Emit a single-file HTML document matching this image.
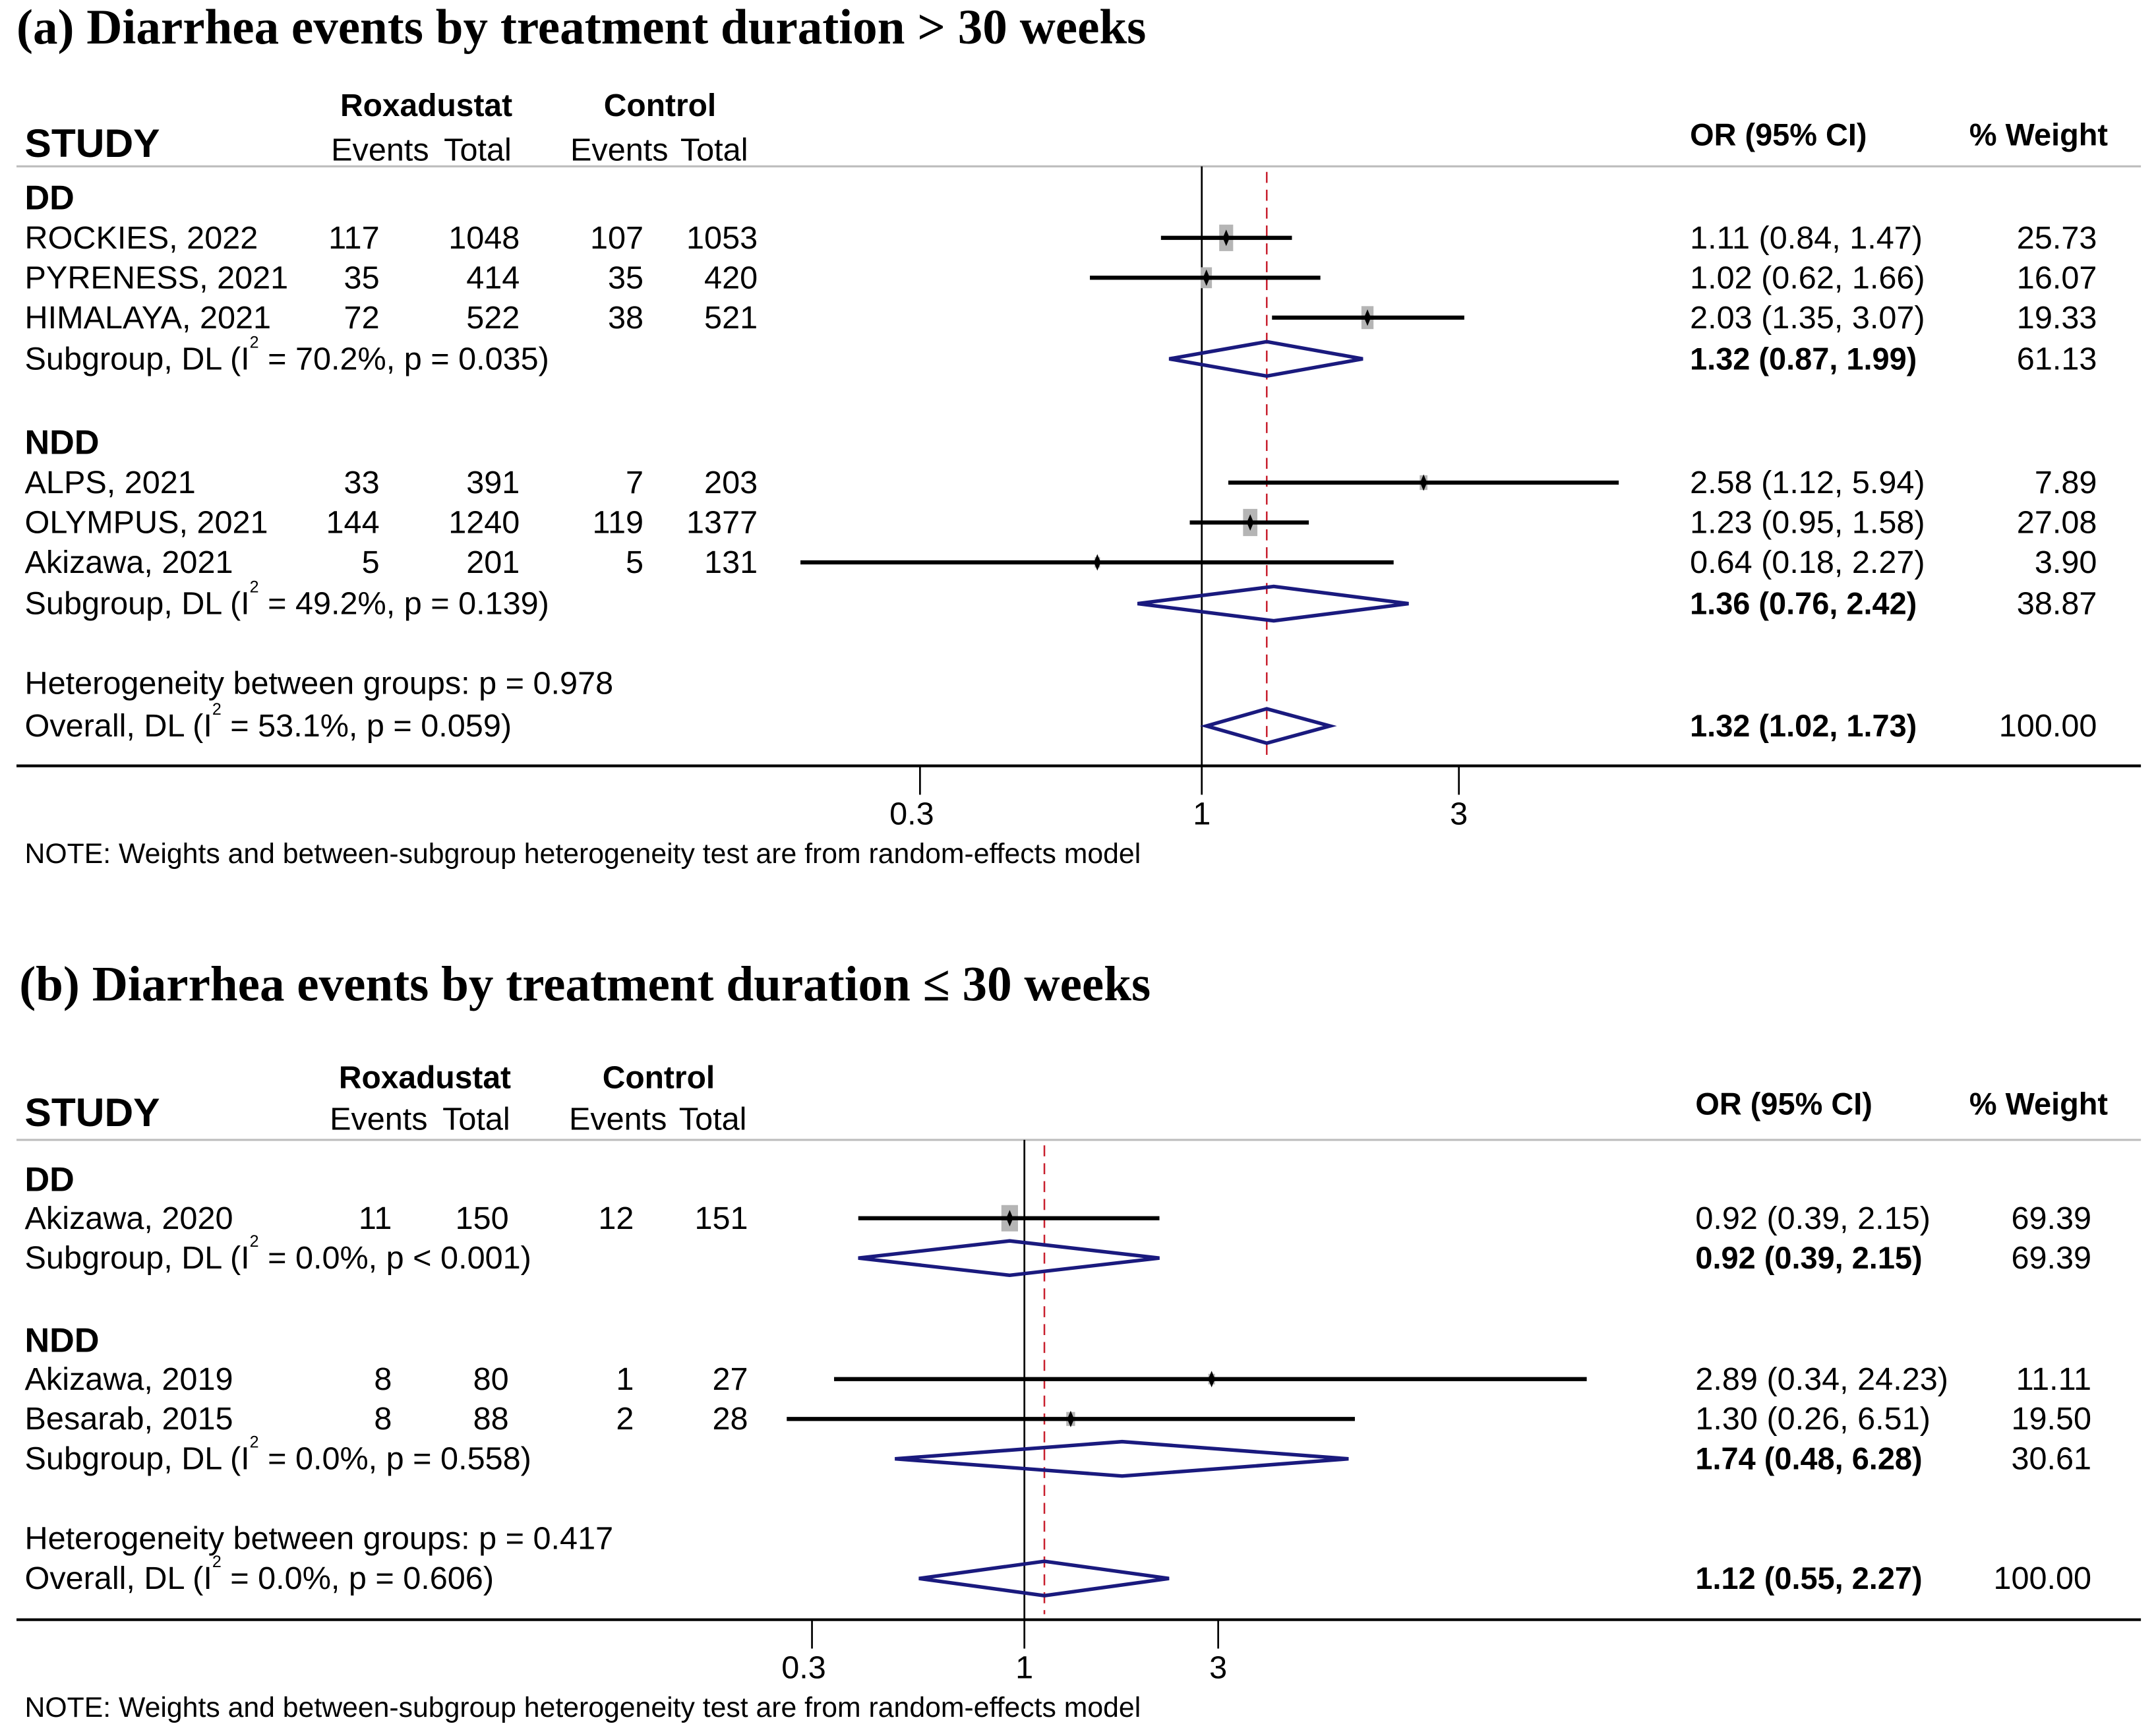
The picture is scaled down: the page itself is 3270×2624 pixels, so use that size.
<!DOCTYPE html>
<html><head><meta charset="utf-8">
<style>
html,body{margin:0;padding:0;background:#fff;}
svg{display:block;}
text{font-family:"Liberation Sans",Arial,sans-serif;fill:#000;}
.t{font-family:"Liberation Serif",serif;font-weight:bold;font-size:36px;}
.b{font-weight:bold;}
</style></head>
<body>
<svg id="chart" width="3270" height="2624" viewBox="0 0 3270 2624" xmlns="http://www.w3.org/2000/svg">
<g id="root" transform="scale(2.0855)"></g>
</svg>
<script>
// ---------- Panel A data ----------
const aNames = ["ROCKIES, 2022","PYRENESS, 2021","HIMALAYA, 2021","ALPS, 2021","OLYMPUS, 2021","Akizawa, 2021"];
const aGroup = ["DD","DD","DD","NDD","NDD","NDD"];
const aRoxE = [117,35,72,33,144,5];
const aRoxT = [1048,414,522,391,1240,201];
const aCtlE = [107,35,38,7,119,5];
const aCtlT = [1053,420,521,203,1377,131];
const aOR = [1.11,1.02,2.03,2.58,1.23,0.64];
const aLo = [0.84,0.62,1.35,1.12,0.95,0.18];
const aHi = [1.47,1.66,3.07,5.94,1.58,2.27];
const aW = ["25.73","16.07","19.33","7.89","27.08","3.90"];
const aSubOR = [1.32,1.36], aSubLo=[0.87,0.76], aSubHi=[1.99,2.42], aSubW=["61.13","38.87"];
const aSubI2 = ["70.2%","49.2%"], aSubP=["p = 0.035","p = 0.139"];
const aOverall = [1.32,1.02,1.73], aOverallTxt="53.1%, p = 0.059", aHet="0.978";
// ---------- Panel B data ----------
const bNames = ["Akizawa, 2020","Akizawa, 2019","Besarab, 2015"];
const bGroup = ["DD","NDD","NDD"];
const bRoxE = [11,8,8];
const bRoxT = [150,80,88];
const bCtlE = [12,1,2];
const bCtlT = [151,27,28];
const bOR = [0.92,2.89,1.30];
const bLo = [0.39,0.34,0.26];
const bHi = [2.15,24.23,6.51];
const bW = ["69.39","11.11","19.50"];
const bSubOR=[0.92,1.74], bSubLo=[0.39,0.48], bSubHi=[2.15,6.28], bSubW=["69.39","30.61"];
const bSubI2=["0.0%","0.0%"], bSubP=["p < 0.001","p = 0.558"];
const bOverall=[1.12,0.55,2.27], bOverallTxt="0.0%, p = 0.606", bHet="0.417";
const ticks=[0.3,1,3], tickLabels=["0.3","1","3"];

const NS="http://www.w3.org/2000/svg";
const root=document.getElementById('root');
const FS=23.3;
function el(tag,attrs,parent,txt){const e=document.createElementNS(NS,tag);for(const k in attrs)e.setAttribute(k,attrs[k]);if(txt!==undefined)e.textContent=txt;(parent||root).appendChild(e);return e;}
function f2(v){return v.toFixed(2);}

function panel(P){
  const g=el('g',{});
  
  
  const X=v=>P.x1+Math.log(v)*P.k;
  const T=(x,y,s,o)=>{o=o||{};const t=el('text',{x:x,y:y,'font-size':o.fs||FS,'text-anchor':o.anchor||'start','dominant-baseline':'central'},g,s);if(o.cls)t.setAttribute('class',o.cls);return t;};
  let t=el('text',{x:P.titleX,y:P.titleY,class:'t','dominant-baseline':'central'},g,P.title);
  
  const C=P.cols;
  T(C.rt,P.hy1,'Roxadustat',{anchor:'middle',cls:'b',fs:23,name:'roxadustat-header'});
  T(C.ct,P.hy1,'Control',{anchor:'middle',cls:'b',fs:23,name:'control-header'});
  T(18,P.hy2-5,'STUDY',{cls:'b',fs:29,name:'study-header'});
  T(C.re,P.hy2,'Events',{anchor:'end',name:'events-header'});
  T(C.rtot,P.hy2,'Total',{anchor:'end',name:'total-header'});
  T(C.ce,P.hy2,'Events',{anchor:'end',name:'events-header'});
  T(C.ctot,P.hy2,'Total',{anchor:'end',name:'total-header'});
  T(P.orx,P.hy2-11,'OR (95% CI)',{cls:'b',fs:22.5,name:'or-header'});
  T(1533,P.hy2-11,'% Weight',{anchor:'end',cls:'b',fs:22.5,name:'weight-header'});
  let l=el('line',{x1:12,x2:1557,y1:P.gl,y2:P.gl,stroke:'#bdbdbd','stroke-width':1.5},g);
  
  l=el('line',{x1:X(1),x2:X(1),y1:P.gl,y2:P.ax,stroke:'#000','stroke-width':1.3},g);
  
  l=el('line',{x1:X(P.ov[0]),x2:X(P.ov[0]),y1:P.gl+4,y2:P.ax-4,stroke:'#c8202e','stroke-width':1.2,'stroke-dasharray':'8 5'},g);
  
  l=el('line',{x1:12,x2:1557,y1:P.ax,y2:P.ax,stroke:'#000','stroke-width':2},g);
  
  ticks.forEach((v,i)=>{let tk=el('line',{x1:X(v),x2:X(v),y1:P.ax,y2:P.ax+21,stroke:'#000','stroke-width':1.3},g);
    
    T(X(v)-(i==0?6:0),P.ax+35,tickLabels[i],{anchor:'middle',name:'x-tick-label'});});
  T(18,P.ax+64,'NOTE: Weights and between-subgroup heterogeneity test are from random-effects model',{fs:20.5,name:'footnote'});
  const diamond=(o,lo,hi,y,name)=>{const d=el('polygon',{points:`${X(lo)},${y} ${X(o)},${y-12.5} ${X(hi)},${y} ${X(o)},${y+12.5}`,fill:'none',stroke:'#1a1a7e','stroke-width':2.6},g);};
  const subText=(y,i2,p)=>{const t=el('text',{x:18,y:y,'font-size':FS,'dominant-baseline':'central'},g);
    t.appendChild(document.createTextNode('Subgroup, DL (I'));el('tspan',{dy:-12,'font-size':12},t,'2');
    el('tspan',{dy:12},t,' = '+i2+', '+p+')');};
  P.groups.forEach((grp,gidx)=>{
    T(18,P.gy[gidx],grp,{cls:'b',fs:25,name:'group-label'});
    let rows=[];P.names.forEach((n,i)=>{if(P.group[i]===grp)rows.push(i);});
    rows.forEach((i,j)=>{
      const y=P.gy[gidx]+P.rs[j];
      T(18,y,P.names[i],{name:'study-name'});
      T(C.re2,y,String(P.re[i]),{anchor:'end',name:'rox-events'});
      T(C.rtot2,y,String(P.rt[i]),{anchor:'end',name:'rox-total'});
      T(C.ce2,y,String(P.ce[i]),{anchor:'end',name:'control-events'});
      T(C.ctot2,y,String(P.ctl[i]),{anchor:'end',name:'control-total'});
      T(P.orx,y,f2(P.or[i])+' ('+f2(P.lo[i])+', '+f2(P.hi[i])+')',{name:'or-ci-text'});
      T(P.wx,y,P.w[i],{anchor:'end',name:'weight-text'});
      const s=Math.sqrt(parseFloat(P.w[i]));
      const bw=s*P.bx, bh=s*P.by;
      let r=el('rect',{x:X(P.or[i])-bw/2,y:y-bh/2,width:bw,height:bh,fill:'#b5b5b5'},g);
      
      let ci=el('line',{x1:X(P.lo[i]),x2:X(P.hi[i]),y1:y,y2:y,stroke:'#000','stroke-width':3},g);
      
      const cx=X(P.or[i]);
      let m=el('polygon',{points:`${cx-2.5},${y} ${cx},${y-6} ${cx+2.5},${y} ${cx},${y+6}`,fill:'#000'},g);
      
    });
    const sy=P.gy[gidx]+P.rs[rows.length];
    subText(sy,P.si2[gidx],P.sp[gidx]);
    T(P.orx,sy,f2(P.so[gidx])+' ('+f2(P.slo[gidx])+', '+f2(P.shi[gidx])+')',{cls:'b',fs:22.5,name:'subgroup-or-text'});
    T(P.wx,sy,P.sw[gidx],{anchor:'end',name:'subgroup-weight'});
    diamond(P.so[gidx],P.slo[gidx],P.shi[gidx],sy,'subgroup-diamond');
  });
  T(18,P.hetY,'Heterogeneity between groups: p = '+P.het,{name:'heterogeneity-label'});
  const ot=el('text',{x:18,y:P.ovY,'font-size':FS,'dominant-baseline':'central'},g);
  
  ot.appendChild(document.createTextNode('Overall, DL (I'));el('tspan',{dy:-12,'font-size':12},ot,'2');el('tspan',{dy:12},ot,' = '+P.ovt+')');
  T(P.orx,P.ovY,f2(P.ov[0])+' ('+f2(P.ov[1])+', '+f2(P.ov[2])+')',{cls:'b',fs:22.5,name:'overall-or-text'});
  T(P.wx,P.ovY,'100.00',{anchor:'end',name:'overall-weight'});
  diamond(P.ov[0],P.ov[1],P.ov[2],P.ovY,'overall-diamond');
}

panel({id:'panel-a',title:'(a) Diarrhea events by treatment duration > 30 weeks',titleX:12,titleY:20,
  x1:874,k:170.2,hy1:77,hy2:109,gl:121,ax:557,
  cols:{rt:310,ct:480,re:312,rtot:372,ce:486,ctot:544,re2:276,rtot2:378,ce2:468,ctot2:551},
  groups:['DD','NDD'],gy:[144,322],rs:[29,58,87,117],
  names:aNames,group:aGroup,re:aRoxE,rt:aRoxT,ce:aCtlE,ctl:aCtlT,or:aOR,lo:aLo,hi:aHi,w:aW,
  so:aSubOR,slo:aSubLo,shi:aSubHi,sw:aSubW,si2:aSubI2,sp:aSubP,
  ov:aOverall,ovt:aOverallTxt,het:aHet,hetY:497,ovY:528,orx:1229,wx:1525,bx:2,by:3.8});
panel({id:'panel-b',title:'(b) Diarrhea events by treatment duration \u2264 30 weeks',titleX:14,titleY:716,
  x1:745,k:128.3,hy1:784,hy2:814,gl:829,ax:1178,
  cols:{rt:309,ct:479,re:311,rtot:371,ce:485,ctot:543,re2:285,rtot2:370,ce2:461,ctot2:544},
  groups:['DD','NDD'],gy:[858,975],rs:[28,57,86,86],
  names:bNames,group:bGroup,re:bRoxE,rt:bRoxT,ce:bCtlE,ctl:bCtlT,or:bOR,lo:bLo,hi:bHi,w:bW,
  so:bSubOR,slo:bSubLo,shi:bSubHi,sw:bSubW,si2:bSubI2,sp:bSubP,
  ov:bOverall,ovt:bOverallTxt,het:bHet,hetY:1119,ovY:1148,orx:1233,wx:1521,bx:1.45,by:2.3});
</script>
</body></html>
